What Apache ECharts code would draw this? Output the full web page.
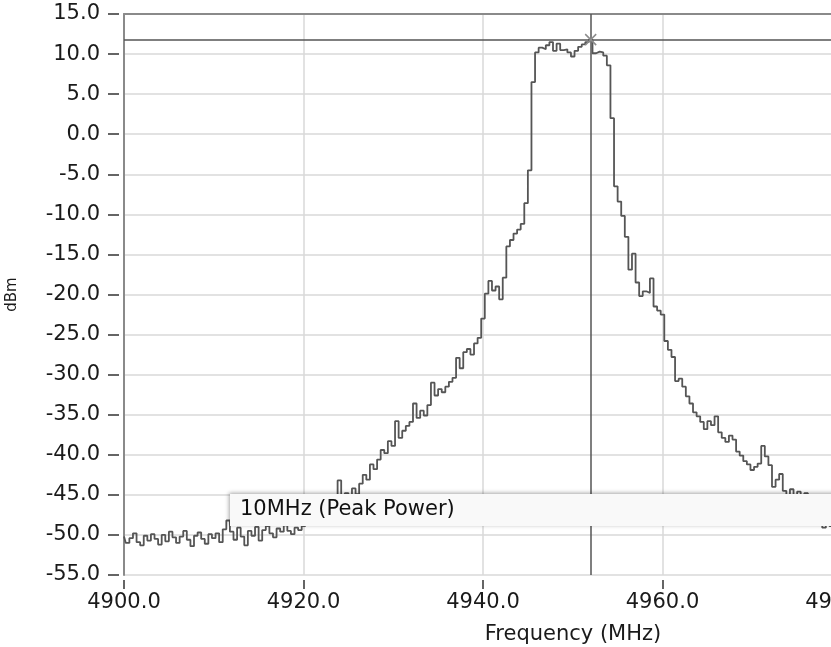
<!DOCTYPE html>
<html>
<head>
<meta charset="utf-8">
<script src="https://cdn.jsdelivr.net/npm/echarts@6/dist/echarts.min.js"></script>
<style>
html,body{margin:0;padding:0;background:#fff;}
#chart{width:831px;height:647px;}
</style>
</head>
<body>
<div id="chart"></div>
<script>
// Sweep sampling (analyzer start frequency and bin width, MHz)
const freqStart = 4900;
const freqStep = 0.4;
const powerDbm = [
  -50.2,-51.0,-50.4,-49.8,-50.9,-51.3,-50.1,-50.7,-49.9,-50.5,-51.2,-50.0,-50.8,-49.6,-50.3,-51.0,-50.2,-49.5,-50.6,-51.4,-50.1,-49.7,-50.5,-51.1,-49.9,
  -50.4,-49.8,-50.9,-49.3,-48.2,-49.6,-50.6,-49.1,-50.2,-51.3,-49.5,-50.1,-49.0,-50.7,-49.4,-48.9,-49.8,-50.3,-49.2,-49.6,-48.8,-49.5,-49.9,-49.1,-49.4,
  -48.9,-48.3,-48.7,-47.6,-47.9,-47.0,-46.5,-47.2,-45.8,-46.1,
  -43.2,-45.5,-44.8,-46.0,-44.2,-44.9,-43.6,-42.5,-43.1,-41.2,
  -41.8,-40.6,-39.4,-39.8,-38.3,-38.9,-35.8,-37.9,-37.0,-36.4,
  -35.9,-33.6,-35.4,-34.5,-35.1,-33.8,-31.0,-32.6,-31.8,-32.2,
  -31.5,-30.9,-30.4,-27.9,-29.2,-27.2,-26.8,-27.5,-26.1,-25.4,
  -23.0,-19.9,-18.3,-19.5,-19.0,-20.6,-17.9,-14.0,-13.2,-12.4,
  -11.9,-11.2,-8.6,-4.5,6.5,10.2,10.8,10.6,11.1,11.5,
  10.4,11.3,10.5,10.6,10.2,9.7,10.4,10.9,11.2,11.5,
  11.8,10.1,10.3,10.2,9.8,8.6,2.0,-6.5,-8.4,-10.2,
  -12.8,-16.9,-14.9,-18.5,-20.2,-19.6,-19.8,-18.0,-21.5,-22.0,
  -22.5,-25.8,-26.9,-27.8,-30.8,-30.5,-31.5,-32.7,-33.6,-34.7,
  -35.2,-35.9,-36.8,-35.8,-36.3,-35.2,-37.2,-37.9,-38.4,-37.6,
  -38.1,-39.6,-40.1,-40.8,-41.2,-41.9,-41.5,-41.1,-38.9,-40.2,
  -41.3,-44.0,-43.1,-42.4,-44.5,-45.2,-44.3,-45.6,-44.6,-45.4,
  -44.8,-46.2,-46.8,-47.5,-48.2,-49.1,-48.4,-48.9,-49.5,-49.2,-49.8
];
// Tick labels
const freqTicks = [4900, 4920, 4940, 4960, 4980];
const dbmTicks = [-55, -50, -45, -40, -35, -30, -25, -20, -15, -10, -5, 0, 5, 10, 15];
const xAxisTitle = 'Frequency (MHz)';
const yAxisTitle = 'dBm';
const markerLabel = '10MHz (Peak Power)';

const trace = powerDbm.map((v, i) => [+(freqStart + i * freqStep).toFixed(2), v]);
let peakIdx = 0;
powerDbm.forEach((v, i) => { if (v > powerDbm[peakIdx]) peakIdx = i; });
const peakFreq = trace[peakIdx][0];
const peakVal = powerDbm[peakIdx];

const FONT = 'DejaVu Sans';
const xMin = freqTicks[0], xMax = freqTicks[freqTicks.length - 1];
const xInt = freqTicks[1] - freqTicks[0];
const yMin = dbmTicks[0], yMax = dbmTicks[dbmTicks.length - 1];
const yInt = dbmTicks[1] - dbmTicks[0];

const chart = echarts.init(document.getElementById('chart'), null, {renderer: 'canvas'});
chart.setOption({
  animation: false,
  backgroundColor: '#ffffff',
  grid: {left: 124, top: 14, width: 718, height: 561, containLabel: false, outerBoundsMode: 'none'},
  xAxis: [
    {
      type: 'value', min: xMin, max: xMax, interval: xInt, position: 'bottom', offset: 5,
      axisLine: {show: false, onZero: false},
      axisTick: {show: true, length: 9, lineStyle: {color: '#333', width: 1.5}},
      axisLabel: {margin: 12, color: '#1a1a1a', fontFamily: FONT, fontSize: 21,
        hideOverlap: false, showMaxLabel: true, formatter: v => v.toFixed(1)},
      splitLine: {show: true, lineStyle: {color: '#d8d8d8', width: 1.5}},
      name: xAxisTitle, nameLocation: 'middle', nameGap: 44,
      nameTextStyle: {fontFamily: FONT, fontSize: 21, color: '#1a1a1a', padding: [0, 0, 0, 180]}
    },
    {
      type: 'value', min: xMin, max: xMax, interval: xInt, position: 'top',
      axisLine: {show: true, onZero: false, lineStyle: {color: '#8a8a8a', width: 2}},
      axisTick: {show: false}, axisLabel: {show: false}, splitLine: {show: false}
    }
  ],
  yAxis: [
    {
      type: 'value', min: yMin, max: yMax, interval: yInt, position: 'left',
      axisLine: {show: true, onZero: false, lineStyle: {color: '#8a8a8a', width: 2}},
      axisTick: {show: false}, axisLabel: {show: false},
      splitLine: {show: true, lineStyle: {color: '#d8d8d8', width: 1.5}}
    },
    {
      type: 'value', min: yMin, max: yMax, interval: yInt, position: 'left', offset: 5,
      axisLine: {show: false, onZero: false},
      axisTick: {show: true, length: 11, lineStyle: {color: '#333', width: 1.5}},
      axisLabel: {margin: 19, color: '#1a1a1a', fontFamily: FONT, fontSize: 21,
        formatter: v => v.toFixed(1)},
      splitLine: {show: false},
      name: yAxisTitle, nameLocation: 'middle', nameGap: 99, nameRotate: 90,
      nameTextStyle: {fontFamily: FONT, fontSize: 15, color: '#1a1a1a'}
    }
  ],
  series: [
    {
      type: 'line', xAxisIndex: 0, yAxisIndex: 0,
      data: trace, step: 'middle', showSymbol: false, symbol: 'none',
      lineStyle: {color: '#555555', width: 1.8},
      clip: true, silent: true,
      markLine: {
        silent: true, symbol: ['none', 'none'], label: {show: false},
        lineStyle: {color: '#555555', width: 1.5, type: 'solid'},
        emphasis: {disabled: true},
        data: [{xAxis: peakFreq}, {yAxis: peakVal}]
      },
      markPoint: {
        silent: true,
        symbol: 'path://M0,0L10,10M10,0L0,10',
        symbolSize: 11,
        itemStyle: {color: 'rgba(0,0,0,0)', borderColor: '#8c8c8c', borderWidth: 1.5},
        label: {show: false},
        data: [{coord: [peakFreq, peakVal]}]
      }
    }
  ],
  graphic: [
    {
      type: 'rect', z: 100,
      shape: {x: 230, y: 494, width: 640, height: 32},
      style: {fill: '#f9f9f9', shadowColor: 'rgba(0,0,0,0.35)', shadowBlur: 4,
        shadowOffsetX: -1, shadowOffsetY: -1}
    },
    {
      type: 'text', z: 101, x: 240, y: 510,
      style: {text: markerLabel, fill: '#111111', font: '21px "DejaVu Sans"',
        textVerticalAlign: 'middle', verticalAlign: 'middle'}
    }
  ]
});
</script>
</body>
</html>
